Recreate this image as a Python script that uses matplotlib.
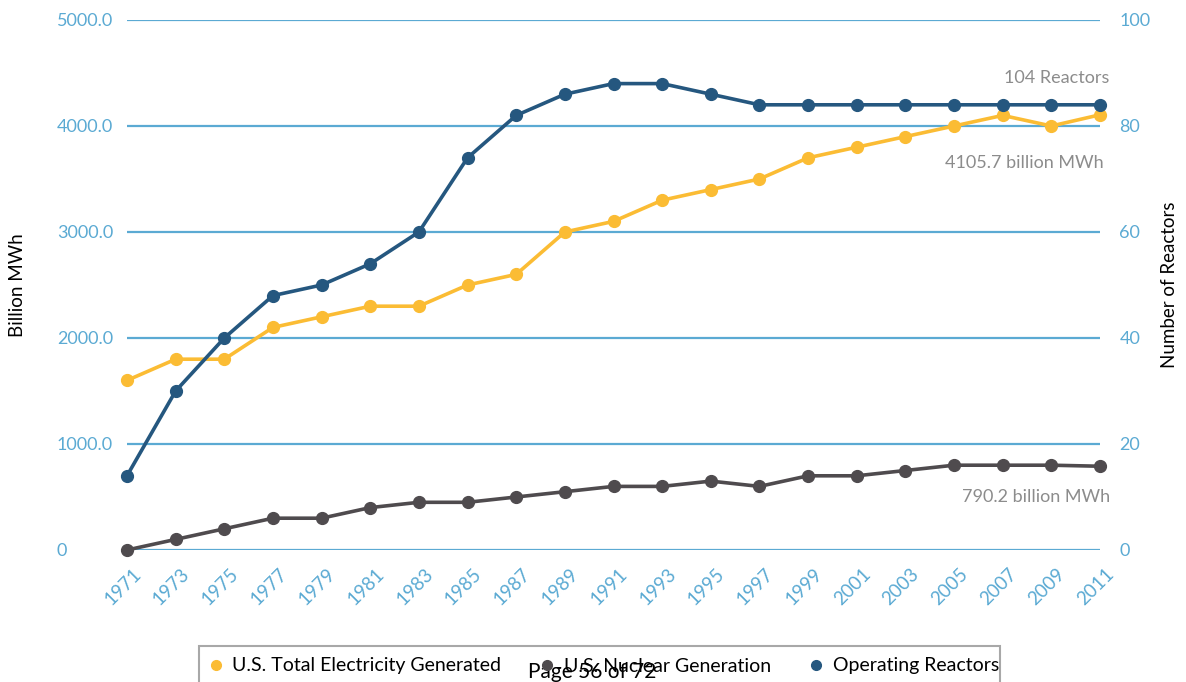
import matplotlib
matplotlib.use("Agg")
import matplotlib.pyplot as plt
import matplotlib.transforms as mtransforms
from matplotlib.lines import Line2D
from matplotlib.patches import Rectangle

plt.rcParams['font.family'] = ['Lato', 'DejaVu Sans']

years = [1971, 1973, 1975, 1977, 1979, 1981, 1983, 1985, 1987, 1989, 1991,
         1993, 1995, 1997, 1999, 2001, 2003, 2005, 2007, 2009, 2011]
total_generation = [1600, 1800, 1800, 2100, 2200, 2300, 2300, 2500, 2600, 3000, 3100,
                    3300, 3400, 3500, 3700, 3800, 3900, 4000, 4100, 4000, 4105.7]
nuclear_generation = [0, 100, 200, 300, 300, 400, 450, 450, 500, 550, 600,
                      600, 650, 600, 700, 700, 750, 800, 800, 800, 790.2]
operating_reactors = [14, 30, 40, 48, 50, 54, 60, 74, 82, 86, 88,
                      88, 86, 84, 84, 84, 84, 84, 84, 84, 84]
series_names = ["U.S. Total Electricity Generated", "U.S. Nuclear Generation", "Operating Reactors"]
left_ticks = [0, 1000, 2000, 3000, 4000, 5000]
left_ticklabels = ["0", "1000.0", "2000.0", "3000.0", "4000.0", "5000.0"]
right_ticks = [0, 20, 40, 60, 80, 100]

YELLOW = '#FBBC34'
GRAY = '#4F4B4E'
BLUE = '#25577F'
GRID = '#5BAAD3'
TICK = '#5BAAD3'
NOTE = '#8C8C8C'

W, H = 1186, 682
X0, X1 = 127, 1100
fig = plt.figure(figsize=(W / 100, H / 100), dpi=100)
ax = fig.add_axes([X0 / W, 1 - 550 / H, (X1 - X0) / W, (550 - 20) / H])
ax2 = ax.twinx()

ax.set_xlim(1971, 2011)
ax.set_ylim(0, 5000)
ax2.set_ylim(0, 100)

for a in (ax, ax2):
    for s in a.spines.values():
        s.set_visible(False)

ax.set_yticks(left_ticks)
ax.set_yticklabels(left_ticklabels)
ax.yaxis.grid(True, color=GRID, lw=1.6)
ax.set_axisbelow(True)
ax.tick_params(axis='y', length=0, labelsize=13, labelcolor=TICK, pad=50.5)
for lab in ax.get_yticklabels():
    lab.set_horizontalalignment('left')

ax2.set_yticks(right_ticks)
ax2.tick_params(axis='y', length=0, labelsize=13, labelcolor=TICK, pad=14)

ax.set_xticks(years)
ax.set_xticklabels([str(y) for y in years])
ax.tick_params(axis='x', length=0, labelsize=13.5, labelcolor=TICK, pad=11)
offset = mtransforms.ScaledTranslation(5 / 100, 0, fig.dpi_scale_trans)
for lab in ax.get_xticklabels():
    lab.set_rotation(45)
    lab.set_ha('right')
    lab.set_va('top')
    lab.set_rotation_mode('anchor')
    lab.set_transform(lab.get_transform() + offset)

lw = 2.6
ms = 8.5
ax.plot(years, total_generation, color=YELLOW, lw=lw, marker='o', ms=ms, clip_on=False, zorder=3)
ax.plot(years, nuclear_generation, color=GRAY, lw=lw, marker='o', ms=ms, clip_on=False, zorder=3)
ax2.plot(years, operating_reactors, color=BLUE, lw=lw, marker='o', ms=ms, clip_on=False, zorder=4)

ax.set_ylabel("Billion MWh", fontsize=13.5, color='black')
ax.yaxis.set_label_coords((26 - X0) / (X1 - X0), 0.5)
ax2.set_ylabel("Number of Reactors", fontsize=13.5, color='black')
ax2.yaxis.set_label_coords((1161 - X0) / (X1 - X0), 0.5)

fig.text(1109 / W, 1 - 78 / H, "104 Reactors", ha='right', va='center', fontsize=13, color=NOTE)
fig.text(1104 / W, 1 - 163 / H, "4105.7 billion MWh", ha='right', va='center', fontsize=13, color=NOTE)
fig.text(1110 / W, 1 - 497 / H, "790.2 billion MWh", ha='right', va='center', fontsize=13, color=NOTE)

# legend box
fig.patches.append(Rectangle((199 / W, -0.05), (1000 - 199) / W, 0.05 + 1 - 646 / H,
                             transform=fig.transFigure, fill=False, ec='#A8A8A8', lw=1.5))
handles = [Line2D([], [], ls='none', marker='o', ms=7, color=c) for c in (YELLOW, GRAY, BLUE)]
leg = fig.legend(handles, series_names, loc='center left', bbox_to_anchor=(210 / W, 1 - 666 / H),
                 ncol=3, frameon=False, fontsize=14, handlelength=0.6, handletextpad=0.55,
                 columnspacing=2.05, borderaxespad=0, borderpad=0)

fig.text(592 / W, 1 - 672 / H, "Page 56 of 72", ha='center', va='center', fontsize=15, color='black')

fig.savefig("out.png", dpi=100)
